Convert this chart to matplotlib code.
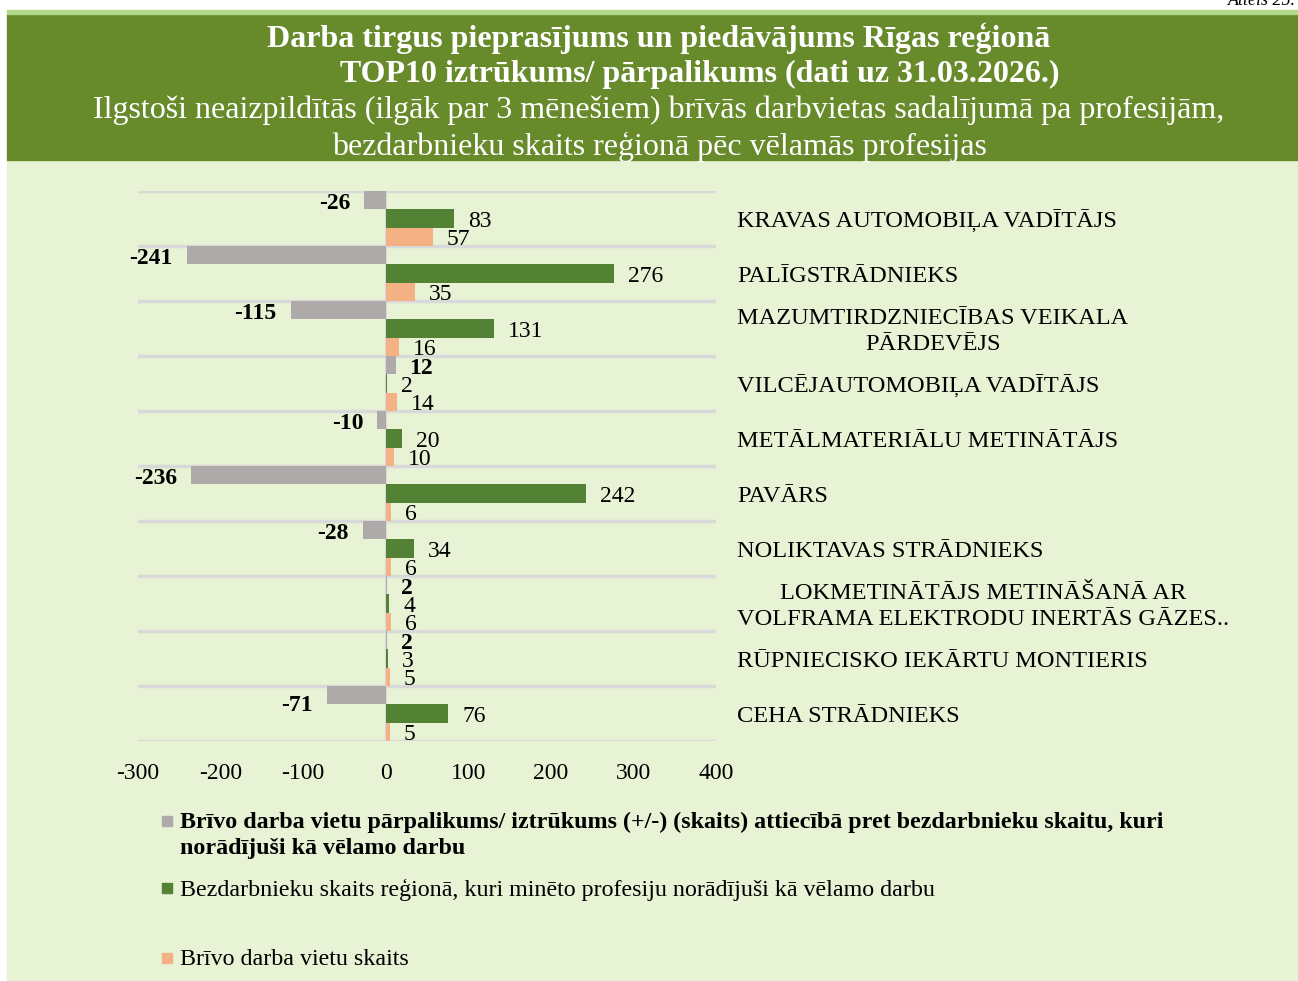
import matplotlib
matplotlib.use("Agg")
import matplotlib.pyplot as plt
from matplotlib.patches import Rectangle
import matplotlib.transforms as mtransforms

# ---------------- data ----------------
categories = [
    "KRAVAS AUTOMOBIĻA VADĪTĀJS",
    "PALĪGSTRĀDNIEKS",
    "MAZUMTIRDZNIECĪBAS VEIKALA\nPĀRDEVĒJS",
    "VILCĒJAUTOMOBIĻA VADĪTĀJS",
    "METĀLMATERIĀLU METINĀTĀJS",
    "PAVĀRS",
    "NOLIKTAVAS STRĀDNIEKS",
    "LOKMETINĀTĀJS METINĀŠANĀ AR\nVOLFRAMA ELEKTRODU INERTĀS GĀZES..",
    "RŪPNIECISKO IEKĀRTU MONTIERIS",
    "CEHA STRĀDNIEKS",
]
balance = [-26, -241, -115, 12, -10, -236, -28, 2, 2, -71]
unemployed = [83, 276, 131, 2, 20, 242, 34, 4, 3, 76]
vacancies = [57, 35, 16, 14, 10, 6, 6, 6, 5, 5]
xticks = [-300, -200, -100, 0, 100, 200, 300, 400]

legend_labels = [
    "Brīvo darba vietu pārpalikums/ iztrūkums (+/-) (skaits) attiecībā pret bezdarbnieku skaitu, kuri\nnorādījuši kā vēlamo darbu",
    "Bezdarbnieku skaits reģionā, kuri minēto profesiju norādījuši kā vēlamo darbu",
    "Brīvo darba vietu skaits",
]
title_lines = [
    "Darba tirgus pieprasījums un piedāvājums Rīgas reģionā",
    "TOP10 iztrūkums/ pārpalikums (dati uz 31.03.2026.)",
    "Ilgstoši neaizpildītās (ilgāk par 3 mēnešiem) brīvās darbvietas sadalījumā pa profesijām,",
    "bezdarbnieku skaits reģionā pēc vēlamās profesijas",
]

# ---------------- style ----------------
C_GRAY = "#AEAAAA"
C_GREEN = "#548235"
C_ORANGE = "#F4B183"
C_BG = "#E8F2D5"
C_BANNER = "#678A2B"
C_STRIP = "#B5D98B"
SERIF = ["Liberation Serif", "DejaVu Serif"]
plt.rcParams["font.family"] = SERIF

W, H = 1298, 981
fig = plt.figure(figsize=(W / 100, H / 100), dpi=100)
fig.patch.set_facecolor("white")


def fx(px):
    return px / W


def fy(py):
    return 1 - py / H


# backgrounds
fig.patches.append(Rectangle((fx(7), fy(980)), fx(W - 7), (980 - 160) / H,
                             transform=fig.transFigure, color=C_BG, zorder=0))
fig.patches.append(Rectangle((fx(7), fy(160)), fx(W - 7), (160 - 14) / H,
                             transform=fig.transFigure, color=C_BANNER, zorder=0))
fig.patches.append(Rectangle((fx(7), fy(14)), fx(W - 7), 3.5 / H,
                             transform=fig.transFigure, color=C_STRIP, zorder=0))

fig.text(fx(1296), fy(5), "Attēls 25.", ha="right", va="baseline",
         fontsize=13, style="italic", color="black")

# titles
TS = 23
fig.text(fx(659), fy(38), title_lines[0], ha="center", va="center",
         fontsize=TS, fontweight="bold", color="white")
fig.text(fx(700), fy(74), title_lines[1], ha="center", va="center",
         fontsize=TS, fontweight="bold", color="white")
fig.text(fx(659), fy(110), title_lines[2], ha="center", va="center",
         fontsize=TS, color="white")
fig.text(fx(659), fy(147), title_lines[3], ha="center", va="center",
         fontsize=TS, color="white")

# ---------------- axes ----------------
ax = fig.add_axes([fx(138), fy(741), (716 - 138) / W, (741 - 191) / H])
ax.set_zorder(5)
ax.set_facecolor("none")
n = len(categories)
ys = list(range(n))
bh = 1 / 3

ax.barh([y - bh for y in ys], balance, height=bh, color=C_GRAY, zorder=3)
ax.barh(ys, unemployed, height=bh, color=C_GREEN, zorder=3)
ax.barh([y + bh for y in ys], vacancies, height=bh, color=C_ORANGE, zorder=3)

ax.set_xlim(-300, 400)
ax.set_ylim(n - 0.5, -0.5)
ax.set_xticks(xticks)
ax.set_xticklabels([str(t) for t in xticks], fontsize=17)
ax.tick_params(axis="x", length=0, pad=16)
ax.set_yticks([])
ax.set_yticks([y - 0.5 for y in range(n + 1)], minor=True)
ax.tick_params(axis="y", which="both", length=0)
ax.grid(axis="y", which="minor", color="#D9D9D9", linewidth=2.5, zorder=1)
ax.axvline(0, color="#D9D9D9", linewidth=1.5, zorder=2)
for s in ax.spines.values():
    s.set_visible(False)

GAP = 14
VS = 17
DY = -3
for i in range(n):
    v = balance[i]
    dy = DY
    if i == 9:
        dy = -10
    if v < 0:
        ax.annotate(str(v), (v, i - bh), xytext=(-GAP, dy), textcoords="offset pixels",
                    ha="right", va="center", fontsize=VS, fontweight="bold")
    else:
        ax.annotate(str(v), (v, i - bh), xytext=(GAP, dy), textcoords="offset pixels",
                    ha="left", va="center", fontsize=VS, fontweight="bold")
    ax.annotate(str(unemployed[i]), (unemployed[i], i), xytext=(GAP, DY),
                textcoords="offset pixels", ha="left", va="center", fontsize=VS)
    ax.annotate(str(vacancies[i]), (vacancies[i], i + bh), xytext=(GAP, DY),
                textcoords="offset pixels", ha="left", va="center", fontsize=VS)

# category labels on the right
trans = mtransforms.blended_transform_factory(fig.transFigure, ax.transData)
trans = trans + mtransforms.ScaledTranslation(0, -3 / 100, fig.dpi_scale_trans)
for i, c in enumerate(categories):
    ax.text(fx(737), i, c, transform=trans, ha="left", va="center",
            multialignment="center", fontsize=17.6, linespacing=1.3)

# ---------------- legend ----------------
leg_colors = [C_GRAY, C_GREEN, C_ORANGE]
leg_y = [821, 888, 958]
leg_weight = ["bold", "normal", "normal"]
for col, yy, lab, wgt in zip(leg_colors, leg_y, legend_labels, leg_weight):
    fig.patches.append(Rectangle((fx(162), fy(yy + 5)), 10 / W, 10 / H,
                                 transform=fig.transFigure, color=col, zorder=2))
    fig.text(fx(180), fy(yy - 9), lab, ha="left", va="top", fontsize=17.25,
             fontweight=wgt, linespacing=1.33)

fig.savefig("out.png", dpi=100, facecolor=fig.get_facecolor())
